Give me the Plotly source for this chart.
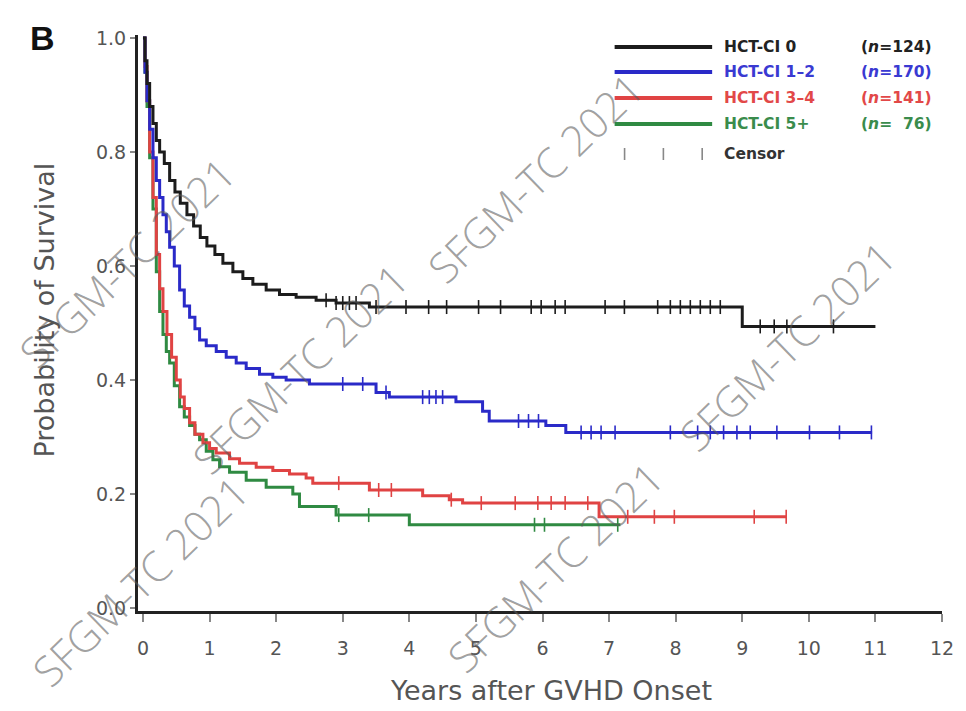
import numpy as np
import plotly.graph_objects as go

# ---------------- data ----------------
groups = ["HCT-CI 0", "HCT-CI 1–2", "HCT-CI 3–4", "HCT-CI 5+"]
n_counts = ["124", "170", "141", " 76"]

# HCT-CI 0
t0 = [0, 0.03, 0.06, 0.1, 0.15, 0.2, 0.25, 0.32, 0.4, 0.48, 0.56, 0.66, 0.76, 0.86,
      0.96, 1.08, 1.2, 1.35, 1.5, 1.65, 1.85, 2.05, 2.3, 2.6, 2.9, 3.4, 9.0]
s0 = [1.0, 0.96, 0.92, 0.88, 0.85, 0.82, 0.80, 0.78, 0.75, 0.73, 0.71, 0.69, 0.67, 0.65,
      0.635, 0.62, 0.605, 0.59, 0.578, 0.568, 0.558, 0.55, 0.545, 0.54, 0.535, 0.528, 0.494]
end0 = 11.0
c0 = [2.75, 2.9, 3.0, 3.1, 3.2, 3.5, 3.95, 4.29, 4.56, 5.04, 5.37, 5.83, 5.98, 6.19, 6.34,
      6.94, 7.23, 7.73, 7.92, 8.07, 8.22, 8.37, 8.52, 8.67, 9.27, 9.48, 9.67, 10.37]

# HCT-CI 1-2
t1 = [0, 0.03, 0.06, 0.1, 0.15, 0.2, 0.25, 0.3, 0.35, 0.4, 0.47, 0.55, 0.62, 0.7, 0.78,
      0.85, 0.95, 1.1, 1.25, 1.4, 1.55, 1.75, 1.95, 2.15, 2.5, 3.5, 3.7, 4.7, 5.1, 5.2,
      6.05, 6.35]
s1 = [1.0, 0.94, 0.89, 0.84, 0.79, 0.75, 0.72, 0.69, 0.66, 0.633, 0.60, 0.558, 0.53, 0.51,
      0.49, 0.47, 0.46, 0.45, 0.44, 0.43, 0.42, 0.41, 0.405, 0.40, 0.393, 0.378, 0.37,
      0.362, 0.345, 0.328, 0.32, 0.308]
end1 = 10.95
c1 = [3.0, 3.3, 3.65, 4.2, 4.3, 4.4, 4.5, 5.64, 5.79, 5.94, 6.58, 6.73, 6.88, 7.09, 7.92,
      8.33, 8.52, 8.72, 8.92, 9.12, 9.52, 10.01, 10.46, 10.94]

# HCT-CI 3-4
t2 = [0, 0.03, 0.06, 0.1, 0.15, 0.2, 0.25, 0.3, 0.36, 0.43, 0.5, 0.56, 0.62, 0.7, 0.78,
      0.9, 1.0, 1.1, 1.3, 1.45, 1.7, 1.95, 2.2, 2.45, 2.55, 3.4, 4.2, 4.6, 4.8, 6.85]
s2 = [1.0, 0.95, 0.89, 0.80, 0.72, 0.62, 0.56, 0.52, 0.48, 0.44, 0.40, 0.37, 0.35, 0.325,
      0.305, 0.29, 0.28, 0.272, 0.262, 0.254, 0.247, 0.241, 0.235, 0.228, 0.219, 0.207,
      0.197, 0.19, 0.184, 0.16]
end2 = 9.66
c2 = [2.94, 3.54, 3.73, 4.63, 5.08, 5.59, 5.93, 6.13, 6.34, 6.68, 7.28, 7.68, 7.98, 9.18, 9.66]

# HCT-CI 5+
t3 = [0, 0.03, 0.06, 0.1, 0.15, 0.2, 0.25, 0.3, 0.35, 0.4, 0.47, 0.55, 0.62, 0.7, 0.78,
      0.85, 0.95, 1.05, 1.15, 1.3, 1.55, 1.85, 2.25, 2.35, 2.9, 4.0]
s3 = [1.0, 0.94, 0.88, 0.79, 0.70, 0.59, 0.52, 0.48, 0.45, 0.43, 0.39, 0.353, 0.335, 0.32,
      0.305, 0.295, 0.275, 0.26, 0.248, 0.238, 0.224, 0.212, 0.2, 0.178, 0.163, 0.146]
end3 = 7.17
c3 = [2.94, 3.39, 5.88, 6.03, 7.13]

x_ticks = list(range(0, 13))
y_ticks = [0.0, 0.2, 0.4, 0.6, 0.8, 1.0]
y_ticktext = ["0.0", "0.2", "0.4", "0.6", "0.8", "1.0"]

watermark = "SFGM-TC 2021"

# ---------------- styling ----------------
line_colors = ["#1c1c1c", "#2a2ac8", "#e04343", "#2f8a42"]
text_colors = ["#222222", "#3a3ad2", "#e24848", "#3a8c4c"]

series = [(t0, s0, end0, c0), (t1, s1, end1, c1), (t2, s2, end2, c2), (t3, s3, end3, c3)]

# plot-area pixel box -> paper coordinates helpers for layout decorations
L, R, T, B = 138, 946, 35, 611


def px(x):
    return (x - L) / (R - L)


def py(y):
    return (B - y) / (B - T)


fig = go.Figure()

for i in [3, 2, 1, 0]:
    t, s, end, c = series[i]
    xs = list(t) + [end]
    ys = list(s) + [s[-1]]
    fig.add_trace(go.Scatter(x=xs, y=ys, mode="lines", line=dict(color=line_colors[i], width=3, shape="hv"),
                             showlegend=False, hoverinfo="skip"))
    tt = np.array(t)
    ss = np.array(s)
    idx = np.searchsorted(tt, np.array(c), side="right") - 1
    cy = ss[idx]
    fig.add_trace(go.Scatter(x=c, y=cy, mode="markers",
                             marker=dict(symbol="line-ns", size=10,
                                         line=dict(color=line_colors[i], width=1.6)),
                             showlegend=False, hoverinfo="skip"))

annotations = []
shapes = []

# watermarks (drawn first so other text sits on top)
wm_centers = [(126, 262), (300, 368), (537, 178), (790, 345), (557, 566), (140, 580)]
for (wx, wy) in wm_centers:
    annotations.append(dict(text=watermark, x=px(wx), y=py(wy), xref="paper", yref="paper",
                            showarrow=False, xanchor="center", yanchor="middle", textangle=-44,
                            font=dict(family="Open Sans", size=42, weight=300,
                                      color="rgba(90,90,90,0.58)")))

# panel letter
annotations.append(dict(text="<b>B</b>", x=px(42), y=py(38), xref="paper", yref="paper",
                        showarrow=False, xanchor="center", yanchor="middle",
                        font=dict(family="Liberation Sans", size=34, color="#111")))

# axis titles
annotations.append(dict(text="Years after GVHD Onset", x=px(553), y=py(690), xref="paper", yref="paper",
                        showarrow=False, xanchor="center", yanchor="middle",
                        font=dict(family="DejaVu Sans", size=27, color="#555")))
annotations.append(dict(text="Probability of Survival", x=px(44), y=py(310), xref="paper", yref="paper",
                        showarrow=False, xanchor="center", yanchor="middle", textangle=-90,
                        font=dict(family="DejaVu Sans", size=27, color="#555")))

# legend
rows = [47, 72, 98, 124]
for i, rowy in enumerate(rows):
    shapes.append(dict(type="line", xref="paper", yref="paper", x0=px(617), x1=px(715),
                       y0=py(rowy), y1=py(rowy), line=dict(color=line_colors[i], width=4)))
    annotations.append(dict(text="<b>%s</b>" % groups[i], x=px(725), y=py(rowy), xref="paper", yref="paper",
                            showarrow=False, xanchor="left", yanchor="middle",
                            font=dict(family="DejaVu Sans", size=15.5, color=text_colors[i])))
    annotations.append(dict(text="<b>(<i>n</i>=%s)</b>" % n_counts[i].replace(" ", "&nbsp;&nbsp;"),
                            x=px(938), y=py(rowy), xref="paper", yref="paper",
                            showarrow=False, xanchor="right", yanchor="middle",
                            font=dict(family="DejaVu Sans", size=15.5, color=text_colors[i])))
for cx in [627, 666, 705]:
    shapes.append(dict(type="line", xref="paper", yref="paper", x0=px(cx), x1=px(cx),
                       y0=py(148), y1=py(160), line=dict(color="#888", width=1.6)))
annotations.append(dict(text="<b>Censor</b>", x=px(725), y=py(154), xref="paper", yref="paper",
                        showarrow=False, xanchor="left", yanchor="middle",
                        font=dict(family="DejaVu Sans", size=15.5, color="#333")))

fig.update_layout(
    width=966, height=711,
    margin=dict(l=L, r=966 - R, t=T, b=711 - B),
    paper_bgcolor="white", plot_bgcolor="white",
    showlegend=False,
    annotations=annotations,
    shapes=shapes,
    xaxis=dict(range=[-0.075, 12.0], tickvals=x_ticks, showgrid=False, zeroline=False,
               showline=True, linewidth=3, linecolor="#222", ticks="outside", ticklen=8,
               tickwidth=1.5, tickcolor="#888", ticklabelstandoff=10,
               tickfont=dict(family="DejaVu Sans", size=19, color="#555")),
    yaxis=dict(range=[-0.0053, 1.0053], tickvals=y_ticks, ticktext=y_ticktext, showgrid=False,
               zeroline=False, showline=True, linewidth=3, linecolor="#222", ticks="outside",
               ticklen=5, tickwidth=1.5, tickcolor="#888",
               tickfont=dict(family="DejaVu Sans", size=19, color="#555")),
)

fig.write_html("out.html")
